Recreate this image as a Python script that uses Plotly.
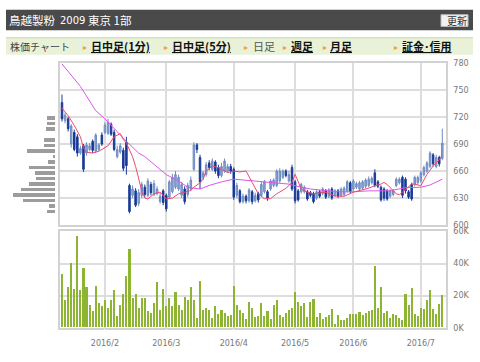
import plotly.graph_objects as go

# ---------------- data ----------------
month_days = {
    "2016-01": [12, 13, 14, 15, 18, 19, 20, 21, 22, 25, 26, 27, 28, 29],
    "2016-02": [1, 2, 3, 4, 5, 8, 9, 10, 12, 15, 16, 17, 18, 19, 22, 23, 24, 25, 26, 29],
    "2016-03": [1, 2, 3, 4, 7, 8, 9, 10, 11, 14, 15, 16, 17, 18, 22, 23, 24, 25, 28, 29, 30, 31],
    "2016-04": [1, 4, 5, 6, 7, 8, 11, 12, 13, 14, 15, 18, 19, 20, 21, 22, 25, 26, 27, 28],
    "2016-05": [2, 6, 9, 10, 11, 12, 13, 16, 17, 18, 19, 20, 23, 24, 25, 26, 27, 30, 31],
    "2016-06": [1, 2, 3, 6, 7, 8, 9, 10, 13, 14, 15, 16, 17, 20, 21, 22, 23, 24, 27, 28, 29, 30],
    "2016-07": [1, 4, 5, 6, 7, 8, 11, 12],
}
dates = [f"{m}-{d:02d}" for m, ds in month_days.items() for d in ds]

opens = [736, 716, 718, 690, 703, 698, 680, 688, 680, 684, 693, 682, 684, 700,
         703, 702, 712, 703, 676, 681, 683, 692, 644, 633, 638, 624, 633, 642, 633, 645,
         634, 635, 626, 638, 633, 631, 637, 642, 640, 633, 640, 634, 640, 662, 689, 675,
         653, 656, 669, 662, 670, 664, 655, 660, 660, 665, 662, 633, 638, 626, 632, 627,
         637, 627, 635, 633, 637, 637, 640, 644, 644, 649, 653, 660, 649, 664, 648, 638,
         637, 637, 637, 636, 635, 630, 637, 635, 638, 632, 640, 633, 638, 633, 634, 638,
         647, 640, 642, 640, 641, 643, 644, 647, 658, 648, 642, 640, 638, 632, 634, 644,
         647, 653, 651, 637, 645, 645, 647, 649, 656, 660, 665, 678, 665, 675, 674]
highs = [745, 725, 720, 712, 706, 701, 688, 690, 692, 691, 695, 702, 691, 703,
         714, 718, 714, 706, 688, 691, 686, 698, 646, 644, 641, 640, 648, 645, 652, 648,
         650, 643, 636, 640, 635, 650, 657, 660, 656, 648, 643, 647, 654, 692, 691, 678,
         660, 670, 672, 674, 672, 667, 669, 674, 668, 668, 664, 647, 640, 635, 634, 641,
         639, 636, 637, 648, 650, 639, 651, 652, 662, 663, 662, 662, 660, 667, 650, 640,
         647, 644, 639, 638, 637, 639, 639, 642, 640, 641, 642, 640, 640, 642, 643, 650,
         649, 651, 648, 649, 650, 652, 654, 654, 662, 650, 644, 642, 640, 640, 640, 653,
         653, 655, 653, 639, 647, 655, 655, 660, 666, 671, 682, 680, 678, 677, 707]
lows = [715, 713, 704, 686, 682, 676, 678, 659, 677, 682, 680, 680, 682, 688,
        701, 700, 699, 682, 674, 679, 660, 656, 613, 630, 620, 621, 630, 631, 631, 633,
        632, 633, 624, 622, 615, 629, 635, 640, 638, 630, 623, 631, 638, 660, 680, 640,
        650, 654, 661, 660, 657, 652, 653, 658, 658, 657, 628, 630, 624, 624, 624, 625,
        623, 625, 625, 631, 635, 627, 638, 642, 642, 647, 651, 653, 647, 638, 624, 626,
        635, 635, 627, 631, 624, 628, 630, 633, 629, 630, 628, 631, 630, 631, 632, 636,
        635, 638, 640, 638, 639, 641, 642, 645, 642, 641, 626, 627, 627, 630, 632, 642,
        645, 630, 635, 629, 627, 643, 645, 647, 654, 658, 663, 665, 663, 665, 672]
closes = [718, 722, 707, 710, 684, 680, 685, 662, 689, 688, 683, 700, 689, 690,
          711, 714, 701, 684, 684, 688, 663, 666, 615, 640, 622, 636, 645, 634, 649, 636,
          646, 640, 632, 625, 618, 648, 653, 656, 653, 645, 626, 644, 650, 689, 684, 648,
          658, 667, 664, 671, 660, 655, 665, 671, 665, 660, 631, 644, 626, 632, 627, 639,
          626, 633, 628, 645, 648, 630, 649, 650, 660, 660, 660, 655, 656, 640, 627, 628,
          645, 642, 629, 633, 626, 637, 632, 640, 631, 639, 630, 638, 632, 640, 641, 648,
          637, 649, 646, 647, 648, 650, 651, 652, 644, 643, 628, 630, 629, 638, 638, 651,
          651, 633, 638, 631, 629, 653, 653, 658, 664, 669, 680, 668, 675, 668, 691]

volume = [33000, 17000, 25000, 40000, 24000, 57000, 23000, 37000, 25000, 14000, 10000, 26000, 15000, 13000,
          17000, 12000, 17000, 23000, 7000, 14000, 21000, 32000, 49000, 18000, 21000, 12000, 18000, 18000, 10000, 9000,
          15000, 28000, 11000, 24000, 13000, 18000, 13000, 22000, 14000, 11000, 19000, 17000, 25000, 17000, 6000, 29000,
          11000, 12000, 10500, 5500, 13000, 8000, 11000, 9000, 7000, 7500, 25500, 13700, 11000, 9000, 5000, 16000,
          12000, 6500, 7000, 15000, 7000, 10000, 5000, 14000, 17000, 7500, 6500, 9000, 11000, 12000, 22000, 15500,
          13000, 15000, 6500, 16000, 17500, 6500, 9000, 5000, 6500, 7500, 11500, 2000, 7500, 4500, 4500, 6000,
          8000, 8500, 8300, 9500, 7500, 9000, 10000, 10700, 38000, 12000, 25000, 9000, 10000, 5500, 8000, 7500,
          6000, 4500, 21000, 14000, 24500, 8000, 7000, 12000, 11500, 17000, 23000, 11500, 8000, 14500, 20000]

# moving averages (sample points)
ma5_dates = ["2016-01-12", "2016-01-14", "2016-01-18", "2016-01-20", "2016-01-21", "2016-01-22",
             "2016-01-26", "2016-01-28", "2016-02-02", "2016-02-04", "2016-02-08", "2016-02-09",
             "2016-02-10", "2016-02-12", "2016-02-15", "2016-02-16", "2016-02-17", "2016-02-18",
             "2016-02-19", "2016-02-22", "2016-02-24", "2016-02-26", "2016-03-01", "2016-03-03",
             "2016-03-07", "2016-03-11", "2016-03-14", "2016-03-16", "2016-03-17", "2016-03-18",
             "2016-03-23", "2016-03-25", "2016-03-30", "2016-04-01", "2016-04-05", "2016-04-07",
             "2016-04-11", "2016-04-13", "2016-04-15", "2016-04-19", "2016-04-21", "2016-04-25",
             "2016-04-26", "2016-04-28", "2016-05-02", "2016-05-09", "2016-05-11", "2016-05-13",
             "2016-05-19", "2016-05-24", "2016-05-27", "2016-06-01", "2016-06-03", "2016-06-08",
             "2016-06-10", "2016-06-14", "2016-06-15", "2016-06-16", "2016-06-20", "2016-06-21",
             "2016-06-22", "2016-06-24", "2016-06-28", "2016-06-29", "2016-07-01", "2016-07-05",
             "2016-07-07", "2016-07-11", "2016-07-12"]
ma5_vals = [730, 721.5, 710.6, 698, 686, 681, 680, 682, 688, 698, 701.6, 695, 691, 683, 676,
            665, 651, 638, 630, 629, 634.7, 636.6, 629, 630, 634.7, 638.3, 642, 647, 651, 660,
            665.5, 663.7, 658.3, 660, 659, 660, 647.4, 634.7, 629.3, 629.3, 634.7, 638.3, 640.8,
            647.4, 656.4, 640, 636.5, 634.7, 636.5, 632.2, 632, 636.5, 638.3, 641, 643.7, 645.5,
            647.4, 645, 638.3, 634.7, 633.6, 640, 645.5, 645.5, 643.7, 656.4, 665.5, 672.7, 678]

ma25_dates = ["2016-01-12", "2016-01-20", "2016-01-27", "2016-02-01", "2016-02-10", "2016-02-17",
              "2016-02-19", "2016-02-25", "2016-03-01", "2016-03-07", "2016-03-10", "2016-03-14",
              "2016-03-16", "2016-03-22", "2016-03-28", "2016-04-01", "2016-04-06", "2016-04-13",
              "2016-04-18", "2016-04-20", "2016-04-27", "2016-05-09", "2016-05-12", "2016-05-20",
              "2016-05-25", "2016-06-01", "2016-06-08", "2016-06-17", "2016-06-24", "2016-07-01",
              "2016-07-06", "2016-07-12"]
ma25_vals = [779, 754, 727, 718, 693, 680, 676, 664, 656, 649, 642, 641, 640, 644, 648, 651, 650,
             649, 648, 647.4, 645.5, 642, 640, 638, 637, 637, 638, 638, 641.6, 642, 644.5, 651]

vap_prices = [615, 621.1, 627.2, 633.3, 639.4, 645.5, 651.6, 657.7, 663.8, 669.9, 676,
              682.1, 688.2, 694.3, 700.4, 706.5, 712.6, 718.7]
vap_volume = [80, 63, 317, 417, 340, 260, 187, 200, 257, 73, 23, 277, 110, 107, 0, 87, 80, 80]

price_ticks = [600, 630, 660, 690, 720, 750, 780]
vol_ticks = [0, 20000, 40000, 60000]
vol_ticktext = ["0K", "20K", "40K", "60K"]
month_ticks = ["2016-02-01", "2016-03-01", "2016-04-01", "2016-05-02", "2016-06-01", "2016-07-01"]
month_labels = ["2016/2", "2016/3", "2016/4", "2016/5", "2016/6", "2016/7"]

# ---------------- figure ----------------
W, H = 480, 362
def px(x):
    return x / W
def py(y):
    return 1 - y / H

fig = go.Figure()

fig.add_trace(go.Candlestick(
    x=dates, open=opens, high=highs, low=lows, close=closes,
    xaxis="x", yaxis="y",
    increasing=dict(line=dict(color="#6f8cc2", width=1), fillcolor="#8ea6d2"),
    decreasing=dict(line=dict(color="#183a98", width=1), fillcolor="#183a98"),
    whiskerwidth=0, showlegend=False, hoverinfo="skip"))

fig.add_trace(go.Scatter(x=ma25_dates, y=ma25_vals, mode="lines", xaxis="x", yaxis="y",
                         line=dict(color="#dd55ee", width=1), showlegend=False, hoverinfo="skip"))
fig.add_trace(go.Scatter(x=ma5_dates, y=ma5_vals, mode="lines", xaxis="x", yaxis="y",
                         line=dict(color="#ee4a6e", width=1), showlegend=False, hoverinfo="skip"))

fig.add_trace(go.Bar(x=dates, y=volume, xaxis="x2", yaxis="y2", width=0.68,
                     marker=dict(color="#8db433", line=dict(width=0)),
                     showlegend=False, hoverinfo="skip"))

fig.add_trace(go.Bar(y=vap_prices, x=vap_volume, orientation="h", xaxis="x3", yaxis="y4",
                     width=3.8, marker=dict(color="#9c9c9c", line=dict(width=0)),
                     showlegend=False, hoverinfo="skip"))

grid = "#dddddd"
frame = "#d2d2d2"
tickfont = dict(family="DejaVu Sans", size=8, color="#777777")
xr = [-0.65, 125.2]
xdom = [px(60), px(446)]

fig.update_layout(
    width=W, height=H,
    margin=dict(l=0, r=0, t=0, b=0),
    paper_bgcolor="white", plot_bgcolor="white",
    bargap=0,
    xaxis=dict(domain=xdom, anchor="y", type="category", range=xr,
               tickvals=month_ticks, ticktext=month_labels, showticklabels=False,
               showgrid=True, gridcolor=grid, gridwidth=1.5,
               showline=True, mirror=True, linecolor=frame, linewidth=1.5,
               ticks="", rangeslider=dict(visible=False), fixedrange=True),
    yaxis=dict(domain=[py(226.7), py(60.5)], anchor="x", range=[600, 780],
               tickvals=price_ticks, side="right", tickfont=tickfont,
               showgrid=True, gridcolor=grid, gridwidth=1.5, zeroline=False,
               showline=True, mirror=True, linecolor=frame, linewidth=1.5,
               ticks="outside", ticklen=4, tickcolor="white"),
    xaxis2=dict(domain=xdom, anchor="y2", type="category", range=xr,
                tickvals=month_ticks, ticktext=month_labels, tickfont=tickfont,
                showgrid=True, gridcolor=grid, gridwidth=1.5,
                showline=True, mirror=True, linecolor=frame, linewidth=1.5,
                ticks="outside", ticklen=7, tickcolor="white"),
    yaxis2=dict(domain=[py(332), py(233.3)], anchor="x2", range=[0, 60000],
                tickvals=vol_ticks, ticktext=vol_ticktext, side="right", tickfont=tickfont,
                showgrid=True, gridcolor=grid, gridwidth=1.5, zeroline=False,
                showline=True, mirror=True, linecolor=frame, linewidth=1.5,
                ticks="outside", ticklen=4, tickcolor="white"),
    xaxis3=dict(domain=[0, px(55)], anchor="y4", range=[550, 0], visible=False),
    yaxis4=dict(domain=[py(226.7), py(60.5)], anchor="x3", range=[600, 780], visible=False),
)

# header bar
shapes = [
    dict(type="rect", xref="paper", yref="paper", x0=px(6), x1=px(473), y0=py(27), y1=py(6),
         fillcolor="#4a4a4a", line=dict(width=0), layer="below"),
    dict(type="rect", xref="paper", yref="paper", x0=px(441), x1=px(468), y0=py(23), y1=py(11),
         fillcolor="#f2f2f2", line=dict(color="#bbbbbb", width=1), layer="below"),
    dict(type="rect", xref="paper", yref="paper", x0=px(6), x1=px(473), y0=py(52), y1=py(34),
         fillcolor="#e9f2d9", line=dict(width=0), layer="below"),
    dict(type="line", xref="paper", yref="paper", x0=px(6), x1=px(473), y0=py(34.5), y1=py(34.5),
         line=dict(color="#d3e3b8", width=1.5), layer="below"),
]
fig.update_layout(shapes=shapes)

jp = "Noto Sans CJK JP"
def ann(text, x, y, size, color, family=jp):
    return dict(text=text, x=px(x), y=py(y), xref="paper", yref="paper",
                xanchor="left", yanchor="middle", showarrow=False,
                font=dict(family=family, size=size, color=color))

annotations = [
    ann("鳥越製粉", 7, 16.5, 11.5, "white"),
    ann("2009", 58, 16.5, 10, "white", "DejaVu Sans"),
    ann("東京 1部", 86, 16.5, 11.5, "white"),
    ann("更新", 445, 17, 10, "#333333"),
    ann("株価チャート", 8, 43.5, 10, "#444444"),
    ann("▸", 81, 43.5, 8, "#f0a030"),
    ann("<u><b>日中足(1分)</b></u>", 89, 43.5, 11, "#111111"),
    ann("▸", 162, 43.5, 8, "#f0a030"),
    ann("<u><b>日中足(5分)</b></u>", 170, 43.5, 11, "#111111"),
    ann("▸", 242, 43.5, 8, "#f0a030"),
    ann("日足", 251, 43.5, 11, "#555555"),
    ann("▸", 281, 43.5, 8, "#f0a030"),
    ann("<u><b>週足</b></u>", 289, 43.5, 11, "#111111"),
    ann("▸", 321, 43.5, 8, "#f0a030"),
    ann("<u><b>月足</b></u>", 328, 43.5, 11, "#111111"),
    ann("▸", 392, 43.5, 8, "#f0a030"),
    ann("<u><b>証金･信用</b></u>", 400, 43.5, 11, "#111111"),
]
fig.update_layout(annotations=annotations)

fig.write_html("out.html")
